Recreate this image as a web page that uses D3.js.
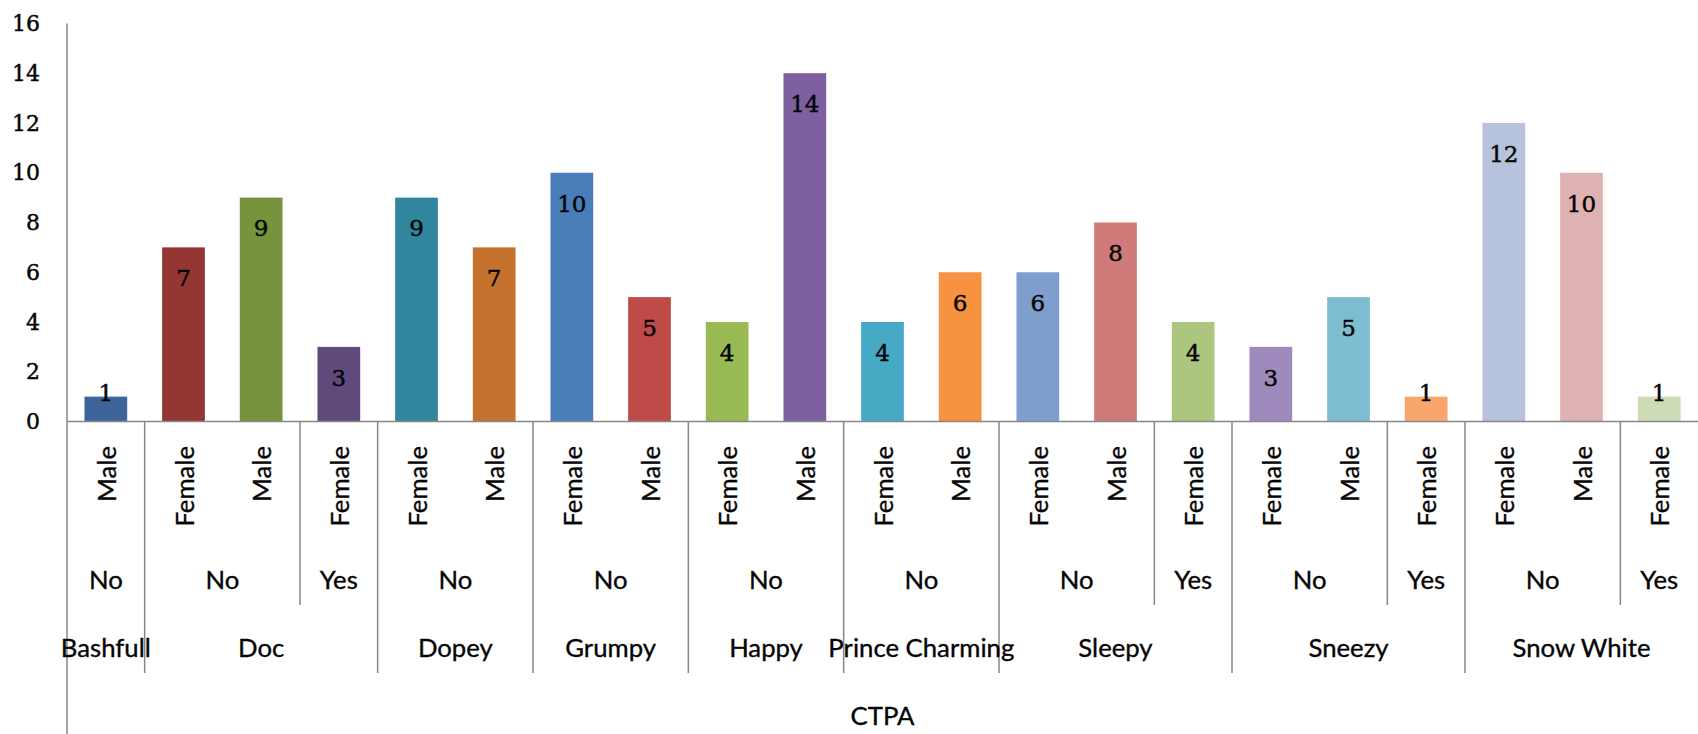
<!DOCTYPE html>
<html>
<head>
<meta charset="utf-8">
<script src="https://cdn.jsdelivr.net/npm/d3@7"></script>
<style>
  html, body { margin: 0; padding: 0; background: #ffffff; }
  svg { display: block; }
</style>
</head>
<body>
<svg id="chart" width="1698" height="734"></svg>
<script>
// ---- data ----
const characters = ["Bashfull","Doc","Doc","Doc","Dopey","Dopey","Grumpy","Grumpy","Happy","Happy",
  "Prince Charming","Prince Charming","Sleepy","Sleepy","Sleepy","Sneezy","Sneezy","Sneezy",
  "Snow White","Snow White","Snow White"];
const ctpa = ["No","No","No","Yes","No","No","No","No","No","No","No","No",
  "No","No","Yes","No","No","Yes","No","No","Yes"];
const genders = ["Male","Female","Male","Female","Female","Male","Female","Male","Female","Male",
  "Female","Male","Female","Male","Female","Female","Male","Female","Female","Male","Female"];
const values = [1,7,9,3,9,7,10,5,4,14,4,6,6,8,4,3,5,1,12,10,1];
const yTicks = [0,2,4,6,8,10,12,14,16];
const axisTitle = "CTPA";
const palette = ["#3D659B","#943634","#77933C","#604A7B","#31859C","#C6722F",
  "#4A7EBB","#BE4B48","#98B954","#7D60A0","#46AAC5","#F69240",
  "#7E9ECE","#CF7B79","#ADC67F","#9E8ABC","#7DBCD1","#F8A66E",
  "#B7C3DD","#DEB2B2","#CCDCB6"];

// ---- layout ----
const svg = d3.select("#chart");
const plotLeft = 67, plotRight = 1698, plotTop = 23.5, plotBase = 421.5;
const x = d3.scaleBand().domain(d3.range(values.length)).range([plotLeft, plotRight])
  .paddingInner(0.45).paddingOuter(0.225);
const step = x.step();
const y = d3.scaleLinear().domain([0, 16]).range([plotBase, plotTop]);
const axisColor = "#878787";
const textColor = "#050505";
const catFont = "Lato, 'Open Sans', sans-serif";
const numFont = "'DejaVu Serif', serif";

function catStyle(sel) {
  return sel.attr("font-family", catFont).attr("fill", textColor)
    .attr("stroke", textColor).attr("stroke-width", 0.35);
}
function numStyle(sel, size) {
  return sel.attr("font-family", numFont).attr("font-size", size).attr("fill", textColor)
    .attr("stroke", textColor).attr("stroke-width", 0.45);
}

// bars
svg.append("g").selectAll("rect").data(values).join("rect")
  .attr("x", (d, i) => x(i))
  .attr("y", d => y(d))
  .attr("width", x.bandwidth())
  .attr("height", d => y(0) - y(d))
  .attr("fill", (d, i) => palette[i]);

// y axis (labels only, no ticks)
const yAxis = svg.append("g").attr("transform", `translate(${plotLeft},0)`)
  .call(d3.axisLeft(y).tickValues(yTicks).tickSize(0).tickPadding(27).tickFormat(d3.format("d")));
yAxis.select(".domain").remove();
numStyle(yAxis.selectAll("text"), 22);

// axis lines
svg.append("line").attr("x1", plotLeft).attr("x2", plotLeft).attr("y1", y(16)).attr("y2", 734)
  .attr("stroke", axisColor).attr("stroke-width", 1.5);
svg.append("line").attr("x1", plotLeft).attr("x2", plotRight).attr("y1", y(0)).attr("y2", y(0))
  .attr("stroke", axisColor).attr("stroke-width", 1.5);

// data labels
numStyle(svg.append("g").selectAll("text").data(values).join("text")
  .attr("x", (d, i) => x(i) + x.bandwidth() / 2)
  .attr("y", d => Math.min(y(d) + 30.5, y(0) - 28.5))
  .attr("dy", "0.36em")
  .attr("text-anchor", "middle"), 23)
  .text(d => d);

// group helper
function groups(keyFn) {
  const out = [];
  values.forEach((v, i) => {
    const k = keyFn(i);
    const last = out[out.length - 1];
    if (last && last.key === k) last.end = i; else out.push({key: k, start: i, end: i});
  });
  return out;
}
const charGroups = groups(i => characters[i]);
const ctpaGroups = groups(i => characters[i] + "|" + ctpa[i]);
const bandLeft = i => plotLeft + i * step;

// fit category font size so "Prince Charming" spans ~186px
const probe = svg.append("text").attr("font-family", catFont).attr("font-size", 100).text("Prince Charming");
const catSize = 100 * 186 / probe.node().getComputedTextLength();
probe.remove();

// divider lines
const charStarts = new Set(charGroups.map(g => g.start));
ctpaGroups.forEach(g => {
  if (g.start === 0) return;
  const xx = bandLeft(g.start);
  const y2 = charStarts.has(g.start) ? 673 : 605;
  svg.append("line").attr("x1", xx).attr("x2", xx).attr("y1", y(0)).attr("y2", y2)
    .attr("stroke", axisColor).attr("stroke-width", 1.5);
});

// gender labels (rotated)
catStyle(svg.append("g").selectAll("text").data(genders).join("text")
  .attr("transform", (d, i) => `translate(${x(i) + x.bandwidth() / 2 + 1},446) rotate(-90)`)
  .attr("dy", "0.36em")
  .attr("text-anchor", "end")
  .attr("font-size", catSize))
  .text(d => d);

// ctpa level labels
catStyle(svg.append("g").selectAll("text").data(ctpaGroups).join("text")
  .attr("x", g => (bandLeft(g.start) + bandLeft(g.end + 1)) / 2)
  .attr("y", 589)
  .attr("text-anchor", "middle")
  .attr("font-size", catSize))
  .text(g => g.key.split("|")[1]);

// character labels
catStyle(svg.append("g").selectAll("text").data(charGroups).join("text")
  .attr("x", g => (bandLeft(g.start) + bandLeft(g.end + 1)) / 2)
  .attr("y", 657)
  .attr("text-anchor", "middle")
  .attr("font-size", catSize))
  .text(g => g.key);

// axis title
catStyle(svg.append("text").attr("x", (plotLeft + plotRight) / 2).attr("y", 725)
  .attr("text-anchor", "middle")
  .attr("font-size", catSize))
  .text(axisTitle);
</script>
</body>
</html>
